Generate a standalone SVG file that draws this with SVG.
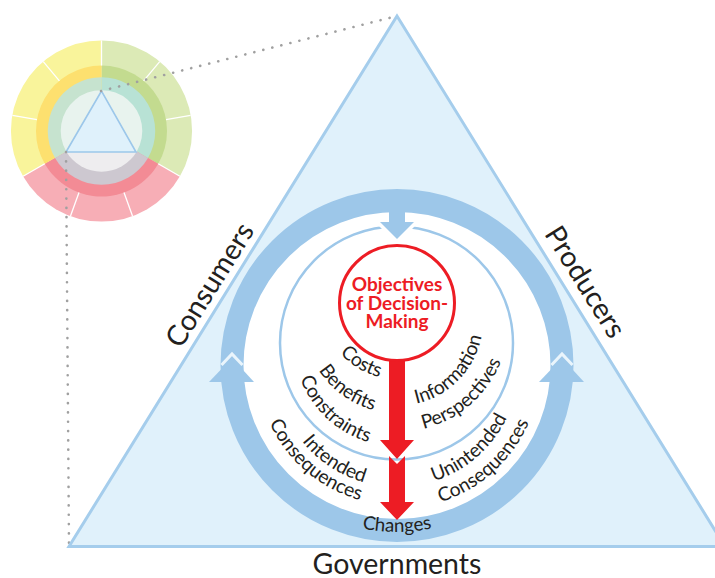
<svg xmlns="http://www.w3.org/2000/svg" width="715" height="578" viewBox="0 0 715 578">
<style>
text{font-family:Lato,"Open Sans","Liberation Sans",sans-serif;fill:#231f20}
.c{font-size:19.300px;text-anchor:middle}
.ch{font-size:18.800px;text-anchor:middle}
.side{font-size:28.500px;text-anchor:middle}
.obj{font-size:19px;font-weight:700;fill:#ed1c24;text-anchor:middle}
.div{stroke:#fff;stroke-width:1.3;fill:none}
.dot{stroke:#a0a0a0;stroke-width:2.600;stroke-linecap:round;stroke-dasharray:.1 9.200;fill:none}
.red{fill:#ed1c24}.blue{fill:#9dc7e9}
.chev{fill:none;stroke:#eaf5fc;stroke-width:3}
</style>
<defs>
<path id="r76" d="M321 303A76 76 0 0 0 473 303"/>
<path id="r93" d="M304 320A93 93 0 0 0 490 320"/>
<path id="r86" d="M311 320A86 86 0 0 0 483 320"/>
<path id="r112" d="M285 320A112 112 0 0 0 509 320"/>
<path id="r103" d="M294 343A103 103 0 0 0 500 343"/>
<path id="r122" d="M275 365A122 122 0 0 0 519 365"/>
<path id="r140" d="M257 365A140 140 0 0 0 537 365"/>
<path id="r144" d="M253 365A144 144 0 0 0 541 365"/>
<path id="r167" d="M230 365A167 167 0 0 0 564 365"/>
</defs>

<g id="wheel">
<path d="M101.500 131V40.500A90.500 90.500 0 0 1 179.900 176.300L101.500 131Z" fill="#dceab6"/>
<path d="M101.500 131L179.900 176.300A90.500 90.500 0 0 1 23.100 176.300Z" fill="#f7aeb6"/>
<path d="M101.500 131L23.100 176.300A90.500 90.500 0 0 1 101.500 40.500Z" fill="#f9f49b"/>
<path d="M101.500 131V65.500A65.500 65.500 0 0 1 158.200 163.800Z" fill="#c3db8f"/>
<path d="M101.500 131L158.200 163.800A65.500 65.500 0 0 1 44.800 163.800Z" fill="#f38b95"/>
<path d="M101.500 131L44.800 163.800A65.500 65.500 0 0 1 101.500 65.500Z" fill="#fde06f"/>
<path d="M101.500 131V77.300A53.700 53.700 0 0 1 148 157.900Z" fill="#b8e2d5"/>
<path d="M101.500 131L148 157.900A53.700 53.700 0 0 1 55 157.900Z" fill="#cdc8d0"/>
<path d="M101.500 131L55 157.900A53.700 53.700 0 0 1 101.500 77.300Z" fill="#c6e3cf"/>
<path d="M101.500 131L136.800 151.400A40.800 40.800 0 0 1 66.200 151.400Z" fill="#eeedef"/>
<path d="M101.500 131L66.200 151.400A40.800 40.800 0 1 1 136.800 151.400Z" fill="#e8f3ee"/>
<path class="div" d="M159.700 61.700L143.600 80.800M190.600 115.300L166 119.600M132.500 216L124 192.500M70.500 216L79 192.500M12.400 115.300L37 119.600M43.300 61.700L59.400 80.800"/>
<path class="div" d="M179.900 176.300L158.200 163.800M23.100 176.300L44.800 163.800M101.500 40.500V65.500"/>
<polygon points="101.500,91 66,152 136,152" fill="#dff1fb" stroke="#9cc7ea" stroke-width="1.600"/>
</g>

<g id="connectors">
<path class="dot" d="M101 91L397 16"/>
<path class="dot" d="M66 152L69 546"/>
</g>

<g id="triangle">
<polygon points="397,16 69,546.500 725,546.500" fill="#e0f1fb" stroke="#a5cdec" stroke-width="3"/>
</g>

<g id="cycle">
<circle cx="397" cy="365.500" r="165" fill="#fff" stroke="#9dc7e9" stroke-width="23"/>
<polyline class="chev" points="221.500,365 232,354 242.500,365"/>
<polyline class="chev" points="551.500,365 562,354 572.500,365"/>
<polygon class="blue" points="232,358 254,382 209,382"/>
<polygon class="blue" points="562,358 584,382 539,382"/>
</g>

<g id="inner-circle">
<circle cx="396.500" cy="343" r="116.500" fill="none" stroke="#9dc7e9" stroke-width="2.500"/>
<polygon points="374,221 397,244 420,221 420,214 374,214" fill="#fff"/>
<rect class="blue" x="389" y="205" width="16" height="18"/>
<polygon class="blue" points="380,222 414,222 397,239"/>
</g>

<g id="objectives">
<path class="red" d="M389 358H405V440H414L397 459L380 440H389Z"/>
<path class="red" d="M389 456L397 464L405 456V502H414L397 520L380 502H389Z"/>
<circle cx="397" cy="303" r="57.500" fill="#fff" stroke="#ed1c24" stroke-width="3"/>
<text class="obj" x="397" y="291">Objectives</text>
<text class="obj" x="397" y="309.500">of Decision-</text>
<text class="obj" x="397" y="328">Making</text>
</g>

<g id="labels">
<text class="c" transform="rotate(31 397 303)"><textPath href="#r76" startOffset="50%">Costs</textPath></text>
<text class="c" transform="rotate(36 397 320)"><textPath href="#r93" startOffset="50%">Benefits</textPath></text>
<text class="c" transform="rotate(43 397 343)"><textPath href="#r103" startOffset="50%">Constraints</textPath></text>
<text class="c" transform="rotate(-46 397 320)"><textPath href="#r86" startOffset="50%">Information</textPath></text>
<text class="c" transform="rotate(-41 397 320)"><textPath href="#r112" startOffset="50%">Perspectives</textPath></text>
<text class="c" transform="rotate(33.500 397 365)"><textPath href="#r122" startOffset="50%">Intended</textPath></text>
<text class="c" transform="rotate(40.500 397 365)"><textPath href="#r140" startOffset="50%">Consequences</textPath></text>
<text class="c" transform="rotate(-41 397 365)"><textPath href="#r122" startOffset="50%">Unintended</textPath></text>
<text class="c" transform="rotate(-42 397 365)"><textPath href="#r144" startOffset="50%">Consequences</textPath></text>
<text class="ch"><textPath href="#r167" startOffset="50%">Changes</textPath></text>
<text class="side" transform="translate(218 290) rotate(-58)">Consumers</text>
<text class="side" transform="translate(577 287) rotate(58)">Producers</text>
<text class="side" x="397" y="574">Governments</text>
</g>
</svg>
